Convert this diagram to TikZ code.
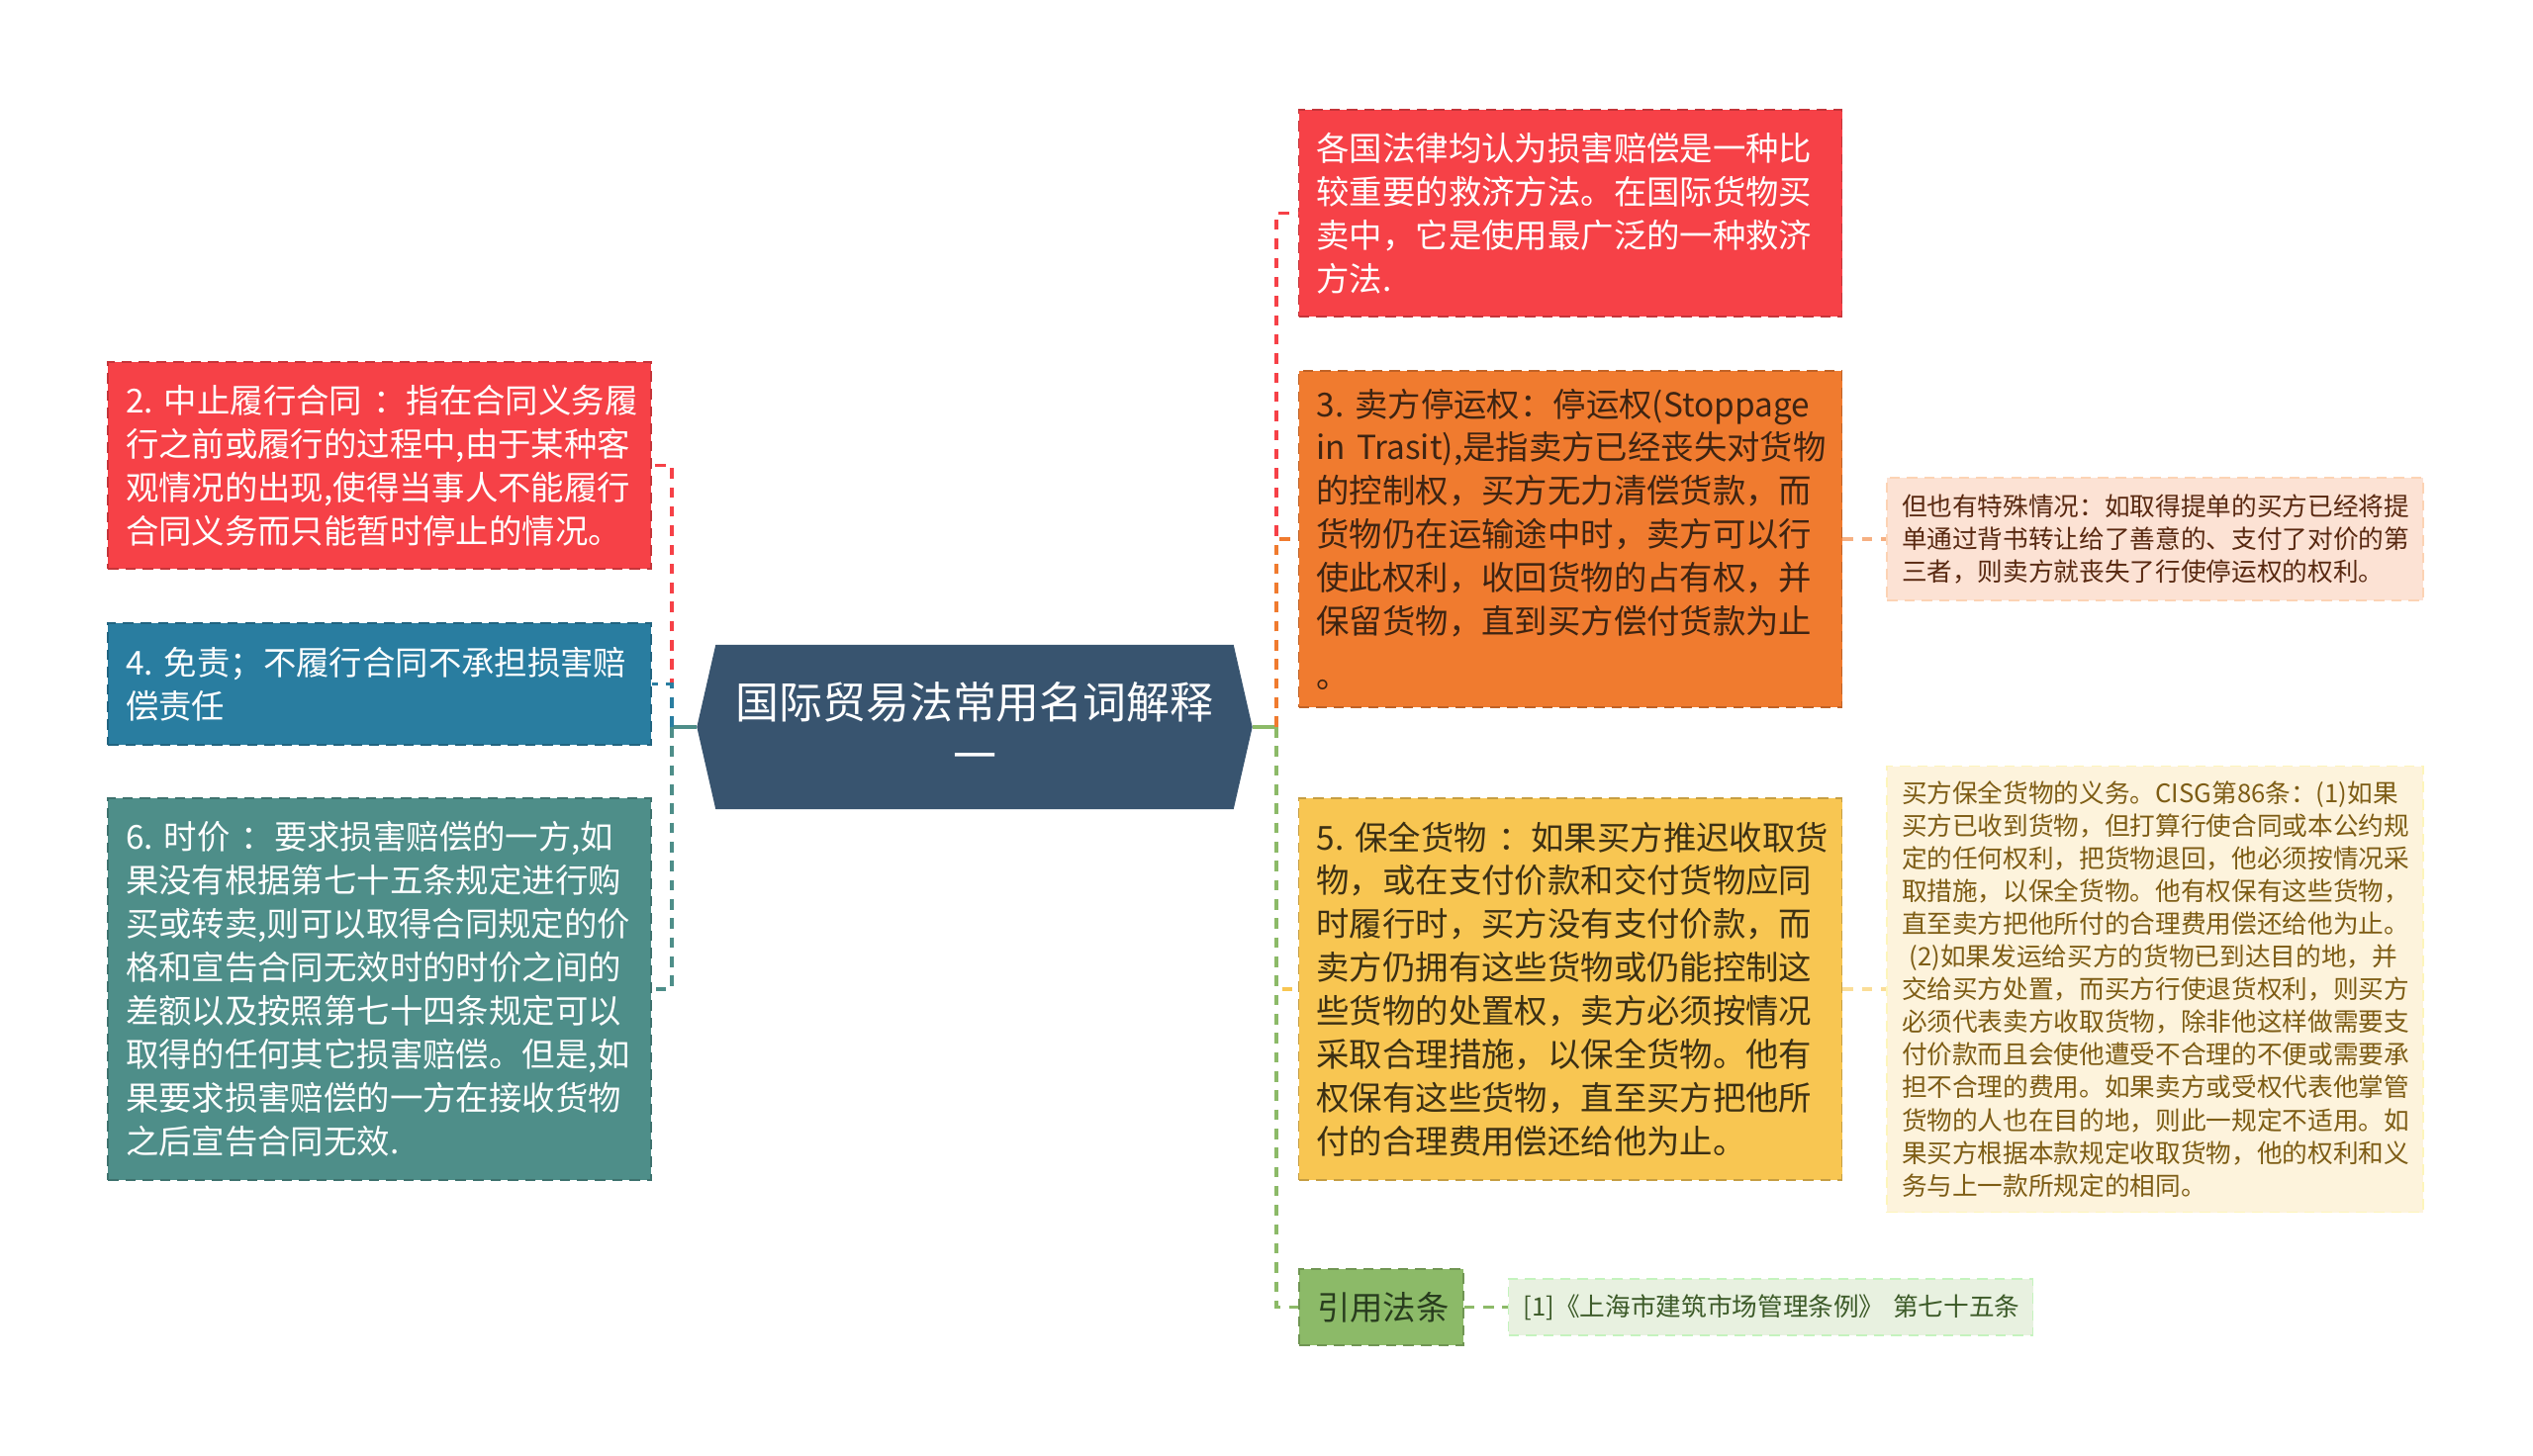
\documentclass[tikz,border=0pt]{standalone}
\usepackage{fontspec}
\setmainfont{Noto Sans CJK SC}
\usepackage{xcolor}
\usepackage{tikz}
\usetikzlibrary{backgrounds}

\definecolor{redbox}{RGB}{246,65,71}
\definecolor{bluebox}{RGB}{41,125,160}
\definecolor{tealbox}{RGB}{78,142,137}
\definecolor{hubblue}{RGB}{56,84,111}
\definecolor{orangebox}{RGB}{240,123,47}
\definecolor{yellowbox}{RGB}{248,198,82}
\definecolor{greenbox}{RGB}{140,186,104}
\definecolor{peachnote}{RGB}{252,226,212}
\definecolor{creamnote}{RGB}{253,243,220}
\definecolor{greennote}{RGB}{232,241,224}
\definecolor{browntext}{RGB}{62,36,18}
\definecolor{peachtext}{RGB}{88,40,16}
\definecolor{yellowtext}{RGB}{60,48,20}
\definecolor{creamtext}{RGB}{125,92,20}
\definecolor{greentext}{RGB}{40,60,30}
\definecolor{reftext}{RGB}{60,90,40}

\hyphenpenalty=10000
\exhyphenpenalty=10000

\tikzset{
  box/.style={rectangle, text width=5.13cm, inner xsep=0.18cm, inner ysep=0pt,
    align=left, densely dashed, line width=0.4pt,
    font=\fontsize{9.5pt}{12.5pt}\selectfont},
  note/.style={rectangle, text width=5.12cm, inner xsep=0.15cm, inner ysep=0pt,
    align=left, densely dashed, line width=0.4pt,
    font=\fontsize{7.3pt}{9.4pt}\selectfont},
  hub/.style={rectangle, minimum width=5.6cm, minimum height=1.65cm, inner sep=0pt,
    align=center, text=white, font=\fontsize{12.5pt}{15.4pt}\selectfont},
  link/.style={line width=1pt, dash pattern=on 3pt off 2.5pt},
}

\begin{document}
\begin{tikzpicture}
  \useasboundingbox (0,0) rectangle (25.6,-14.71);
  % centre
  \node[hub] (hub) at (9.85,-7.35) {国际贸易法常用名词解释\\一};
  \begin{scope}[on background layer]
    \fill[hubblue] (hub.west) -- ([xshift=0.19cm]hub.north west) -- ([xshift=-0.19cm]hub.north east)
      -- (hub.east) -- ([xshift=-0.19cm]hub.south east) -- ([xshift=0.19cm]hub.south west) -- cycle;
  \end{scope}

  % left side
  \node[box, fill=redbox, draw=redbox!80!black, text=white, minimum height=2.09cm] (halt) at (3.835,-4.705)
    {2.~中止履行合同~：指在合同义务履\\行之前或履行的过程中,由于某种客\\观情况的出现,使得当事人不能履行\\合同义务而只能暂时停止的情况。};
  \node[box, fill=bluebox, draw=bluebox!80!black, text=white, minimum height=1.23cm] (exempt) at (3.835,-6.915)
    {4.~免责；不履行合同不承担损害赔\\偿责任};
  \node[box, fill=tealbox, draw=tealbox!80!black, text=white, minimum height=3.86cm] (price) at (3.835,-10.0)
    {6.~时价~：要求损害赔偿的一方,如\\果没有根据第七十五条规定进行购\\买或转卖,则可以取得合同规定的价\\格和宣告合同无效时的时价之间的\\差额以及按照第七十四条规定可以\\取得的任何其它损害赔偿。但是,如\\果要求损害赔偿的一方在接收货物\\之后宣告合同无效.};

  % right side
  \node[box, fill=redbox, draw=redbox!80!black, text=white, minimum height=2.09cm] (remedy) at (15.87,-2.155)
    {各国法律均认为损害赔偿是一种比\\较重要的救济方法。在国际货物买\\卖中，它是使用最广泛的一种救济\\方法.};
  \node[box, fill=orangebox, draw=orangebox!80!black, text=browntext, minimum height=3.40cm] (stop) at (15.87,-5.45)
    {3.~卖方停运权：停运权(Stoppage\\in~Trasit),是指卖方已经丧失对货物\\的控制权，买方无力清偿货款，而\\货物仍在运输途中时，卖方可以行\\使此权利，收回货物的占有权，并\\保留货物，直到买方偿付货款为止\\[3pt]。};
  \node[box, fill=yellowbox, draw=yellowbox!80!black, text=yellowtext, minimum height=3.86cm] (keep) at (15.87,-10.0)
    {5.~保全货物~：如果买方推迟收取货\\物，或在支付价款和交付货物应同\\时履行时，买方没有支付价款，而\\卖方仍拥有这些货物或仍能控制这\\些货物的处置权，卖方必须按情况\\采取合理措施，以保全货物。他有\\权保有这些货物，直至买方把他所\\付的合理费用偿还给他为止。};
  \node[box, text width=1.30cm, fill=greenbox, draw=greenbox!80!black, text=greentext, minimum height=0.77cm] (cite) at (13.96,-13.215)
    {引用法条};

  % notes
  \node[note, fill=peachnote, draw=peachnote!85!orange, text=peachtext, minimum height=1.24cm] (stopnote) at (21.78,-5.45)
    {但也有特殊情况：如取得提单的买方已经将提\\单通过背书转让给了善意的、支付了对价的第\\三者，则卖方就丧失了行使停运权的权利。};
  \node[note, fill=creamnote, draw=creamnote!85!yellow, text=creamtext, minimum height=4.51cm] (keepnote) at (21.78,-10.0)
    {买方保全货物的义务。CISG第86条：(1)如果\\买方已收到货物，但打算行使合同或本公约规\\定的任何权利，把货物退回，他必须按情况采\\取措施，以保全货物。他有权保有这些货物，\\直至卖方把他所付的合理费用偿还给他为止。\\\hspace{0.3em}(2)如果发运给买方的货物已到达目的地，并\\交给买方处置，而买方行使退货权利，则买方\\必须代表卖方收取货物，除非他这样做需要支\\付价款而且会使他遭受不合理的不便或需要承\\担不合理的费用。如果卖方或受权代表他掌管\\货物的人也在目的地，则此一规定不适用。如\\果买方根据本款规定收取货物，他的权利和义\\务与上一款所规定的相同。};
  \node[note, text width=5.0cm, fill=greennote, draw=greennote!85!green, text=reftext, minimum height=0.57cm] (ref) at (17.895,-13.215)
    {[1]《上海市建筑市场管理条例》~第七十五条};

  % connectors
  \coordinate (lt) at (6.79,-7.35);
  \coordinate (rt) at (12.90,-7.35);
  \draw[tealbox, line width=1pt] (hub.west) -- (lt);
  \draw[link, redbox] (lt) |- (halt.east);
  \draw[link, bluebox] (lt) |- (exempt.east);
  \draw[link, tealbox] (lt) |- (price.east);
  \draw[greenbox, line width=1pt] (hub.east) -- (rt);
  \draw[link, redbox] (rt) |- (remedy.west);
  \draw[link, orangebox] (rt) |- (stop.west);
  \draw[link, yellowbox] (rt) |- (keep.west);
  \draw[link, greenbox] (rt) |- (cite.west);
  \draw[link, orangebox!60] (stop.east) -- (stopnote.west);
  \draw[link, yellowbox!60] (keep.east) -- (keepnote.west);
  \draw[link, greenbox] (cite.east) -- (ref.west);
\end{tikzpicture}
\end{document}
